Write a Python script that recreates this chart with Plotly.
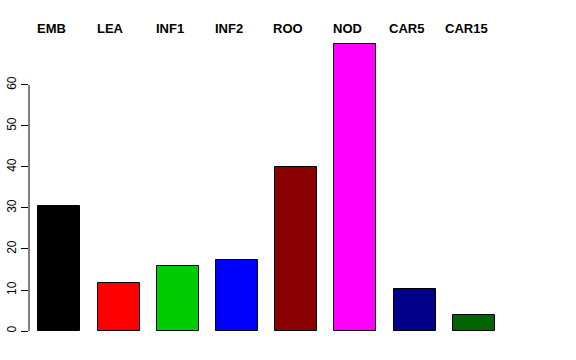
import plotly.graph_objects as go

categories = ["EMB", "LEA", "INF1", "INF2", "ROO", "NOD", "CAR5", "CAR15"]
values = [30.5, 11.7, 15.9, 17.3, 40.0, 69.9, 10.2, 3.9]
colors = ["#000000", "#FF0000", "#00CD00", "#0000FF", "#8B0000", "#FF00FF", "#00008B", "#006400"]
yticks = [0, 10, 20, 30, 40, 50, 60]

xpos = list(range(len(categories)))
label_offset = -0.13  # top labels sit slightly left of bar centres in the reference

fig = go.Figure()
fig.add_trace(go.Bar(
    x=xpos, y=values, width=0.71,
    marker=dict(color=colors, line=dict(color="#000000", width=1)),
    hoverinfo="skip",
))

for xi, name in zip(xpos, categories):
    fig.add_annotation(x=xi + label_offset, xref="x", y=1.006, yref="paper", text="<b>" + name + "</b>",
                       showarrow=False, yanchor="middle", xanchor="center",
                       font=dict(family="Liberation Sans, Arial", size=13, color="#000000"))

fig.add_shape(type="line", xref="paper", yref="y", x0=0, x1=0, y0=yticks[0], y1=yticks[-1],
              line=dict(color="#000000", width=1))

fig.update_layout(
    width=576, height=360,
    margin=dict(l=29, r=0, t=30, b=29),
    paper_bgcolor="white", plot_bgcolor="white",
    showlegend=False,
    bargap=0,
    xaxis=dict(range=[-0.512, 8.726], showticklabels=False, showgrid=False, zeroline=False,
               showline=False, ticks="", automargin=False),
    yaxis=dict(range=[0, 73.41], tickvals=yticks, ticktext=[str(v) for v in yticks],
               tickangle=-90, ticks="outside", ticklen=7, tickcolor="#000000", tickwidth=1,
               showgrid=False, zeroline=False, showline=False, automargin=False,
               tickfont=dict(family="Liberation Sans, Arial", size=12, color="#000000")),
)

fig.write_html("out.html", config={"displayModeBar": False},
               post_script="document.body.style.margin='0';document.body.style.overflow='hidden';")
